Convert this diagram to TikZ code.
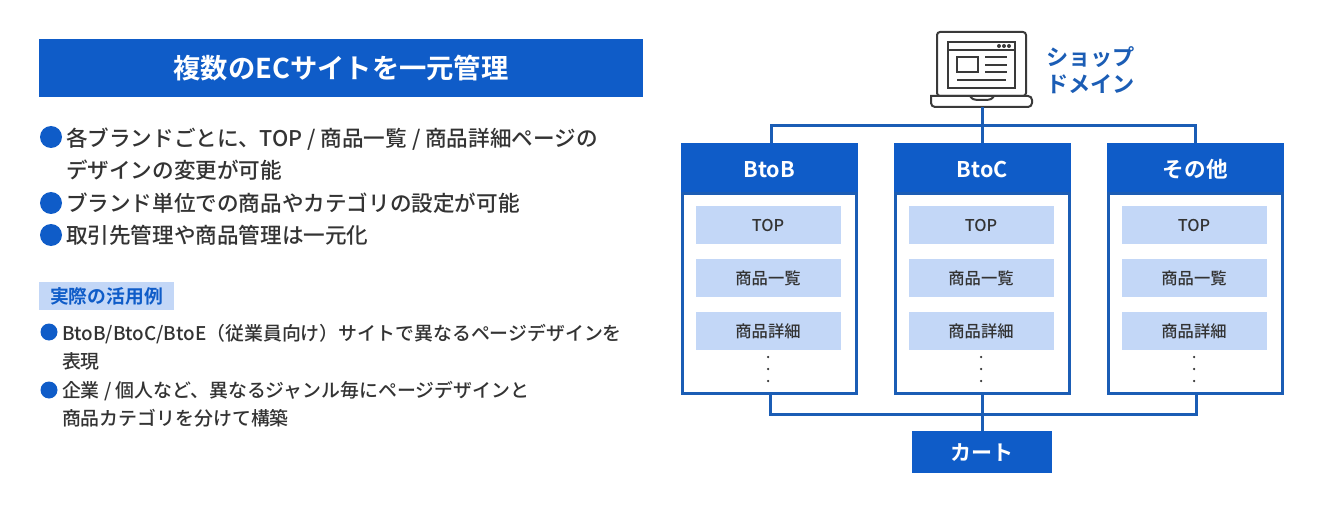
\documentclass[tikz,border=0pt]{standalone}
\usepackage{fontspec}
\setmainfont{Noto Sans CJK JP Medium}[BoldFont=Noto Sans CJK JP Bold]
\usetikzlibrary{positioning}
\definecolor{ecblue}{HTML}{0F5CC8}
\definecolor{eclight}{HTML}{C3D7F7}
\definecolor{ecline}{HTML}{1B5DB5}
\definecolor{ectext}{HTML}{333333}
\definecolor{ecicon}{HTML}{3A3A3A}

\begin{document}
\begin{tikzpicture}[x=1pt,y=-1pt,text=ectext,
  every node/.style={outer sep=0pt,inner sep=0pt},
  titlebx/.style={fill=ecblue,text=white,minimum width=604pt,minimum height=58pt,font=\fontsize{27.3}{27.3}\selectfont\bfseries},
  bigdot/.style={circle,fill=ecblue,minimum size=22pt},
  smalldot/.style={circle,fill=ecblue,minimum size=17pt},
  bigtxt/.style={anchor=west,align=left,font=\fontsize{21.6}{32.5}\selectfont},
  smalltxt/.style={anchor=west,align=left,font=\fontsize{18.9}{28.5}\selectfont},
  tagbx/.style={fill=eclight,text=ecblue,minimum width=135pt,minimum height=28pt,font=\fontsize{18.8}{18.8}\selectfont\bfseries},
  headbx/.style={fill=ecblue,text=white,minimum width=177pt,minimum height=51pt,text height=20pt,text depth=1pt,font=\fontsize{21.6}{21.6}\selectfont\bfseries},
  framebx/.style={draw=ecline,line width=3pt,fill=white,minimum width=174pt,minimum height=199pt},
  cellbx/.style={fill=eclight,minimum width=145pt,minimum height=38pt,text height=14pt,text depth=1.6pt,font=\fontsize{16.3}{16.3}\selectfont},
  dotnd/.style={circle,fill=ectext,minimum size=2.5pt},
  cartbx/.style={fill=ecblue,text=white,minimum width=140pt,minimum height=42pt,text height=17pt,text depth=1pt,font=\fontsize{21}{21}\selectfont\bfseries},
  bus/.style={draw=ecline,line width=3pt},
  icon/.style={draw=ecicon,line width=2pt},
  node distance=15pt]
  \useasboundingbox (0,0) rectangle (1322,505);

  % left column
  \node[titlebx](title) at (341,68){複数のECサイトを一元管理};
  \node[bigdot](d1) at (51,137){};
  \node[bigtxt](t1) at (66,154){各ブランドごとに、TOP / 商品一覧 / 商品詳細ページの\\デザインの変更が可能};
  \node[bigdot](d2) at (51,203){};
  \node[bigtxt](t2) at (66,203){ブランド単位での商品やカテゴリの設定が可能};
  \node[bigdot](d3) at (51,235){};
  \node[bigtxt](t3) at (66,235){取引先管理や商品管理は一元化};
  \node[tagbx](tag) at (106.5,296){実際の活用例};
  \node[smalldot](d4) at (49,332){};
  \node[smalltxt](t4) at (62,347){BtoB/BtoC/BtoE（従業員向け）サイトで異なるページデザインを\\表現};
  \node[smalldot](d5) at (49,390){};
  \node[smalltxt](t5) at (62,404){企業 / 個人など、異なるジャンル毎にページデザインと\\商品カテゴリを分けて構築};

  % laptop
  \node[icon,fill=white,rounded corners=3pt,minimum width=89pt,minimum height=64pt](lap) at (981.5,64){};
  \coordinate(base) at (982,107);
  \draw[icon,fill=white] (931,96)[rounded corners=4pt]--(931,107)--(1032,107)--(1032,96)[sharp corners]--cycle;
  \draw[icon] (970,96) .. controls (972,99) and (974,100) .. (977,100) -- (987,100) .. controls (990,100) and (992,99) .. (994,96);
  \node[icon,minimum width=67pt,minimum height=46pt](scr) at (981.5,65){};
  \node[icon,minimum width=21pt,minimum height=15pt](pic) at (967.5,64.5){};
  \draw[icon] (scr.north west)++(0,8) -- ++(67,0);
  \draw[icon] (985,57) -- (1007,57) (985,65) -- (1007,65) (985,72) -- (1007,72) (957,80) -- (1006,80);
  \node[circle,fill=ecicon,minimum size=4pt](s1) at (999,46){};
  \node[circle,fill=ecicon,minimum size=4pt](s2) at (1004,46){};
  \node[circle,fill=ecicon,minimum size=4pt](s3) at (1009,46){};
  \node[anchor=west,align=left,text=ecline,font=\fontsize{22.2}{27}\selectfont\bfseries](shop) at (1046,70.5){ショップ\\ドメイン};

  % columns
  \node[headbx](btob) at (769.3,168.5){BtoB};
  \node[headbx](btoc) at (982.3,168.5){BtoC};
  \node[headbx](other) at (1195.3,168.5){その他};
  \node[framebx,below=0pt of btob](fa){};
  \node[framebx,below=0pt of btoc](fb){};
  \node[framebx,below=0pt of other](fc){};

  \node[cellbx,below=12pt of btob,xshift=-1.3pt](a1){TOP};
  \node[cellbx,below=of a1](a2){商品一覧};
  \node[cellbx,below=of a2](a3){商品詳細};
  \node[dotnd](a4) at (a3|-0,357){};
  \node[dotnd](a5) at (a3|-0,369){};
  \node[dotnd](a6) at (a3|-0,381){};

  \node[cellbx,below=12pt of btoc,xshift=-1.3pt](b1){TOP};
  \node[cellbx,below=of b1](b2){商品一覧};
  \node[cellbx,below=of b2](b3){商品詳細};
  \node[dotnd](b4) at (b3|-0,357){};
  \node[dotnd](b5) at (b3|-0,369){};
  \node[dotnd](b6) at (b3|-0,381){};

  \node[cellbx,below=12pt of other,xshift=-1.3pt](c1){TOP};
  \node[cellbx,below=of c1](c2){商品一覧};
  \node[cellbx,below=of c2](c3){商品詳細};
  \node[dotnd](c4) at (c3|-0,357){};
  \node[dotnd](c5) at (c3|-0,369){};
  \node[dotnd](c6) at (c3|-0,381){};

  \node[cartbx](cart) at (982,452){カート};

  % connectors
  \coordinate(topbus) at (982,126);
  \coordinate(lowbus) at (982,414);
  \draw[bus](base)--(btoc.north-|base);
  \draw[bus]([xshift=1.7pt]btob.north)|-(topbus)-|(other.north);
  \draw[bus]([xshift=1pt]fa.south)|-(lowbus)-|([xshift=1pt]fc.south);
  \draw[bus](fb.south-|cart)--(cart.north);
\end{tikzpicture}
\end{document}
